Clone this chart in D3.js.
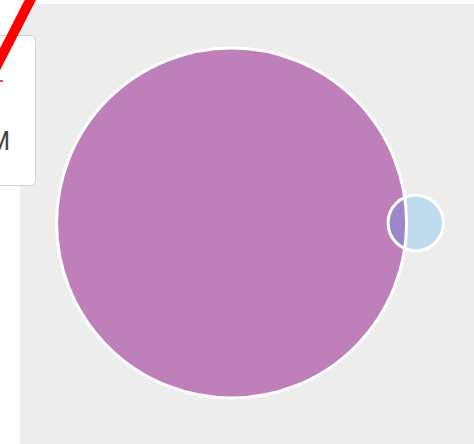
<!DOCTYPE html>
<html>
<head>
<meta charset="utf-8">
<script src="https://cdn.jsdelivr.net/npm/d3@7"></script>
<style>
  html, body { margin: 0; padding: 0; background: #fff; }
  svg { display: block; }
</style>
</head>
<body>
<div id="chart"></div>
<script>
// venn data: two sets and their overlap
const sets = ['A', 'B'];
const setSizes = [100, 2.5];
const overlapSize = 0.7;
const setColors = ['#bf7fbb', '#bfdcef'];
const overlapColor = '#9c88c6';

const width = 474, height = 444;

const svg = d3.select('#chart').append('svg')
    .attr('width', width)
    .attr('height', height);

// grey panel behind the diagram
const panel = { x: 20, y: 4, w: width - 20, h: height - 4 };
svg.append('rect')
    .attr('x', panel.x).attr('y', panel.y)
    .attr('width', panel.w).attr('height', panel.h)
    .attr('fill', '#ededed');

// radius from area
const rScale = d3.scaleSqrt().domain([0, d3.max(setSizes)]).range([0, 175]);
const radii = setSizes.map(v => rScale(v));

function segment(r, x) {
    return r * r * Math.acos(x / r) - x * Math.sqrt(r * r - x * x);
}

function overlapArea(r1, r2, d) {
    if (d >= r1 + r2) return 0;
    if (d <= Math.abs(r1 - r2)) return Math.PI * Math.min(r1, r2) ** 2;
    const a = (d * d + r1 * r1 - r2 * r2) / (2 * d);
    return segment(r1, a) + segment(r2, d - a);
}

// find the centre distance that gives the wanted overlap area
const unitArea = Math.PI * radii[0] * radii[0] / setSizes[0];
const targetArea = overlapSize * unitArea;
let lo = Math.abs(radii[0] - radii[1]), hi = radii[0] + radii[1];
for (let i = 0; i < 60; i++) {
    const mid = (lo + hi) / 2;
    if (overlapArea(radii[0], radii[1], mid) > targetArea) lo = mid; else hi = mid;
}
const dist = (lo + hi) / 2;

// centre the layout horizontally
const layoutCx = 250, cy = 223;
const left = -radii[0], right = dist + radii[1];
const cx0 = layoutCx - (left + right) / 2;
const circles = sets.map((s, i) => ({
    name: s,
    x: i === 0 ? cx0 : cx0 + dist,
    y: cy,
    r: radii[i],
    color: setColors[i]
}));

const g = svg.append('g');

g.selectAll('circle.fill')
    .data(circles)
    .enter().append('circle')
    .attr('class', 'fill')
    .attr('cx', d => d.x)
    .attr('cy', d => d.y)
    .attr('r', d => d.r)
    .attr('fill', d => d.color);

// lens shaped intersection
const c1 = circles[0], c2 = circles[1];
const a = (dist * dist + c1.r * c1.r - c2.r * c2.r) / (2 * dist);
const h = Math.sqrt(c1.r * c1.r - a * a);
const p1 = [c1.x + a, cy - h], p2 = [c1.x + a, cy + h];
const lens = `M${p1[0]},${p1[1]}` +
    ` A${c1.r},${c1.r} 0 ${a < 0 ? 1 : 0} 1 ${p2[0]},${p2[1]}` +
    ` A${c2.r},${c2.r} 0 ${a > dist ? 1 : 0} 1 ${p1[0]},${p1[1]}Z`;
g.append('path')
    .attr('d', lens)
    .attr('fill', overlapColor);

// white borders on top
g.selectAll('circle.border')
    .data(circles)
    .enter().append('circle')
    .attr('class', 'border')
    .attr('cx', d => d.x)
    .attr('cy', d => d.y)
    .attr('r', d => d.r)
    .attr('fill', 'none')
    .attr('stroke', '#fff')
    .attr('stroke-width', 3);

// cut-off card on the left
svg.append('rect')
    .attr('x', -10).attr('y', 35.5)
    .attr('width', 45.5).attr('height', 150)
    .attr('rx', 5)
    .attr('fill', '#fff')
    .attr('stroke', '#d2d2d2')
    .attr('stroke-width', 1);

svg.append('text')
    .attr('x', 10).attr('y', 150)
    .attr('text-anchor', 'end')
    .attr('font-family', 'Roboto, "Open Sans", sans-serif')
    .attr('font-size', 25)
    .attr('fill', '#444')
    .text('M');

// red stroke over the corner
svg.append('line')
    .attr('x1', 37).attr('y1', -13)
    .attr('x2', -6).attr('y2', 71)
    .attr('stroke', '#ff0000')
    .attr('stroke-width', 10);

svg.append('line')
    .attr('x1', 0).attr('y1', 81)
    .attr('x2', 3).attr('y2', 81)
    .attr('stroke', '#ff0000')
    .attr('stroke-width', 1.5);
</script>
</body>
</html>
